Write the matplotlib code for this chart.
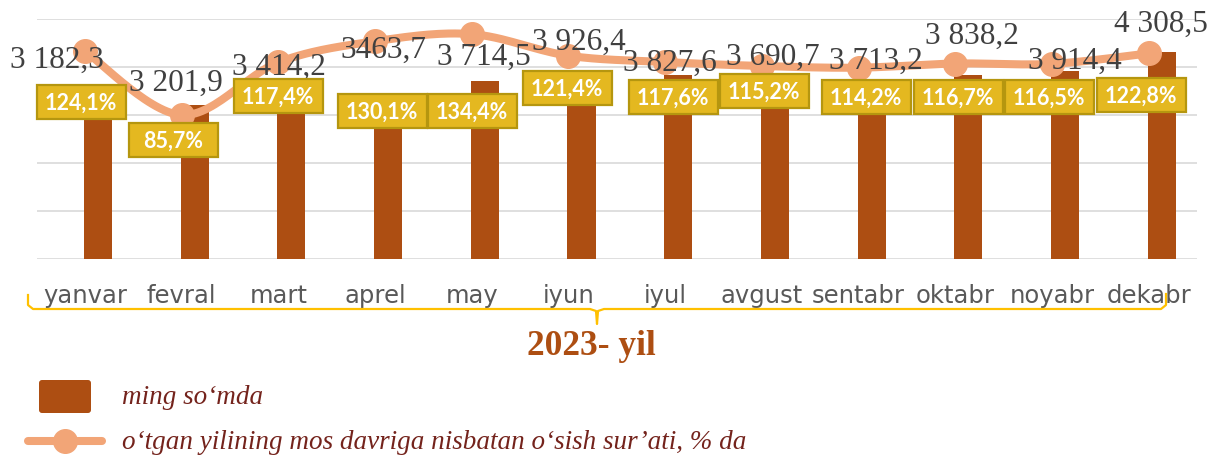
import matplotlib
matplotlib.use("Agg")
import matplotlib.pyplot as plt
import numpy as np
from matplotlib.patches import Rectangle, FancyBboxPatch
from matplotlib.lines import Line2D

months = ["yanvar", "fevral", "mart", "aprel", "may", "iyun",
          "iyul", "avgust", "sentabr", "oktabr", "noyabr", "dekabr"]
wage = [3182.3, 3201.9, 3414.2, 3463.7, 3714.5, 3926.4,
        3827.6, 3690.7, 3713.2, 3838.2, 3914.4, 4308.5]
growth = [124.1, 85.7, 117.4, 130.1, 134.4, 121.4,
          117.6, 115.2, 114.2, 116.7, 116.5, 122.8]

BAR = "#AD4E12"
LINE = "#F2A577"
GOLD = "#E4B820"
GOLD_EDGE = "#B5960F"
INK = "#404040"
TICK = "#595959"
MAROON = "#74231C"
BRACE = "#FFC000"

W, H = 1211, 455
fig = plt.figure(figsize=(W / 100, H / 100), dpi=100)

# main plot area (pixels: x 36.6..1197, y 19..259 from top)
ax = fig.add_axes([36.6 / W, (H - 259) / H, 1160.4 / W, 240 / H])
x = np.arange(len(months))
ax.bar(x + 0.135, wage, width=0.29, color=BAR, zorder=2)
ax.set_xlim(-0.5, len(months) - 0.5)
ax.set_ylim(0, 5000)
ax.set_yticks(np.arange(0, 5001, 1000))
ax.yaxis.grid(True, color="#D9D9D9", lw=1.2, zorder=0)
ax.set_axisbelow(True)
ax.tick_params(axis="y", length=0, labelleft=False)
ax.set_xticks(x)
ax.set_xticklabels(months, fontsize=17.5, color=TICK, family="DejaVu Sans")
ax.tick_params(axis="x", length=0, pad=18)
for s in ax.spines.values():
    s.set_visible(False)

# growth rate on a second axis, drawn as a smoothed curve
ax2 = ax.twinx()
ax2.set_ylim(-1, 143.5)
ax2.axis("off")


def smooth(xs, ys, n=30):
    pts = np.column_stack([xs, ys]).astype(float)
    out = []
    for i in range(len(pts) - 1):
        p0 = pts[max(i - 1, 0)]
        p1, p2 = pts[i], pts[i + 1]
        p3 = pts[min(i + 2, len(pts) - 1)]
        c1 = p1 + (p2 - p0) / 6
        c2 = p2 - (p3 - p1) / 6
        t = np.linspace(0, 1, n)[:, None]
        seg = ((1 - t) ** 3) * p1 + 3 * ((1 - t) ** 2) * t * c1 + 3 * (1 - t) * t ** 2 * c2 + t ** 3 * p2
        out.append(seg if i == 0 else seg[1:])
    out = np.vstack(out)
    return out[:, 0], out[:, 1]


sx, sy = smooth(x, growth)
ax2.plot(sx, sy, color=LINE, lw=5.8, solid_capstyle="round", zorder=3)
ax2.plot(x, growth, "o", color=LINE, ms=17, zorder=4)

# overlay in pixel coordinates for labels, brace and legend
ov = fig.add_axes([0, 0, 1, 1])
ov.set_xlim(0, W)
ov.set_ylim(H, 0)
ov.axis("off")
ov.patch.set_alpha(0)

# value labels (thousand so'm)
val_pos = [(57, 60), (176, 83), (279, 67), (383, 50), (484, 57), (579, 42),
           (670, 63), (773, 57), (876, 61), (972, 36), (1075, 61), (1161, 24)]
for i, (v, (px, py)) in enumerate(zip(wage, val_pos)):
    s = f"{v:,.1f}".replace(",", " ").replace(".", ",")
    if i == 3:
        s = s.replace(" ", "")
    ov.text(px, py, s, fontsize=22.5, color=INK, family="Liberation Serif",
            ha="center", va="center", zorder=5)

# growth labels in gold boxes
pct_pos = [(81, 102), (173, 140), (278, 96), (382, 111), (472, 111), (567, 88),
           (673, 97), (764, 91), (866, 97), (958, 97), (1049, 97), (1141, 95)]
bw, bh = 89, 34
for g, (px, py) in zip(growth, pct_pos):
    ov.add_patch(Rectangle((px - bw / 2, py - bh / 2), bw, bh, facecolor=GOLD,
                           edgecolor=GOLD_EDGE, lw=1.6, zorder=6))
    ov.text(px, py + 1, f"{g:.1f}%".replace(".", ","), fontsize=15.5, color="white",
            weight="bold", family="Lato", ha="center", va="center", zorder=7)

# curly brace under the month labels
bx = [28, 28, 33, 590, 596, 597, 598, 604, 1161, 1166, 1166]
by = [295, 305, 309, 309, 311, 324, 311, 309, 309, 305, 294]
ov.add_line(Line2D(bx, by, color=BRACE, lw=1.6, solid_joinstyle="round"))
ov.text(591, 355, "2023- yil", fontsize=25.5, color=BAR, weight="bold",
        family="Liberation Serif", ha="center", va="baseline")

# legend
ov.add_patch(FancyBboxPatch((39, 380), 52, 33, boxstyle="round,pad=0,rounding_size=3",
                            facecolor=BAR, edgecolor="none"))
ov.text(122, 404, "ming so\u2018mda", fontsize=19.5, style="italic", color=MAROON,
        family="Liberation Serif", ha="left", va="baseline")
ov.add_line(Line2D([28, 102], [441, 441], color=LINE, lw=5.8, solid_capstyle="round"))
ov.plot([65], [441], "o", color=LINE, ms=17)
ov.text(122, 449, "o\u2018tgan yilining mos davriga nisbatan o\u2018sish sur\u2019ati, % da",
        fontsize=19.5, style="italic", color=MAROON, family="Liberation Serif",
        ha="left", va="baseline")

fig.savefig("out.png", dpi=100, facecolor="white")
